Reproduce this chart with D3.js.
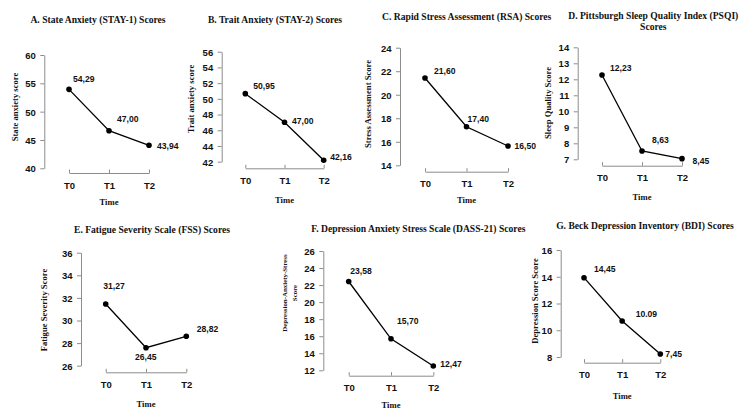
<!DOCTYPE html>
<html>
<head>
<meta charset="utf-8">
<script src="https://cdn.jsdelivr.net/npm/d3@7"></script>
<style>
	body { margin: 0; background: #fff; }
	.title { font-family: 'Liberation Serif', serif; font-size: 9.6px; font-weight: bold; fill: #111; }
	.ylab, .xlab { font-family: 'Liberation Serif', serif; font-size: 8.6px; font-weight: bold; fill: #111; }
	.axis text { font-family: 'Liberation Sans', Arial, sans-serif; font-size: 9.5px; font-weight: bold; fill: #111; }
	.axis path, .axis line { stroke: #8c8c8c; stroke-width: 1; }
	.val { font-family: 'Liberation Sans', Arial, sans-serif; font-size: 8.6px; font-weight: bold; fill: #111; }
</style>
</head>
<body>
<svg id="chart" width="750" height="419"></svg>
<script>
// time points shared by all panels
const timepoints = ['T0', 'T1', 'T2'];

const titles = [
	['A. State Anxiety (STAY-1) Scores'],
	['B. Trait Anxiety (STAY-2) Scores'],
	['C. Rapid Stress Assessment (RSA) Scores'],
	['D. Pittsburgh Sleep Quality Index (PSQI)', 'Scores'],
	['E. Fatigue Severity Scale (FSS) Scores'],
	['F. Depression Anxiety Stress Scale (DASS-21) Scores'],
	['G. Beck Depression Inventory (BDI) Scores'],
];

const yLabels = [
	['State anxiety score'],
	['Trait anxiety score'],
	['Stress Assessment Score'],
	['Sleep Quality Score'],
	['Fatigue Severity Score'],
	['Depression-Anxiety-Stress', 'Score'],
	['Depression Score Score'],
];

// plotted means and the printed labels
const stateAnxiety = [53.94, 46.64, 44.06];
const traitAnxiety = [50.66, 47.02, 42.18];
const rapidStress = [21.42, 17.28, 15.64];
const sleepQuality = [12.27, 7.52, 7.04];
const fatigue = [31.46, 27.59, 28.6];
const dass21 = [22.42, 15.7, 12.5];
const beck = [13.93, 10.69, 8.22];

const stateAnxietyLabels = ['54,29', '47,00', '43,94'];
const traitAnxietyLabels = ['50,95', '47,00', '42,16'];
const rapidStressLabels = ['21,60', '17,40', '16,50'];
const sleepQualityLabels = ['12,23', '8,63', '8,45'];
const fatigueLabels = ['31,27', '26,45', '28,82'];
const dass21Labels = ['23,58', '15,70', '12,47'];
const beckLabels = ['14,45', '10.09', '7,45'];

const yTicks = [
	[40, 45, 50, 55, 60],
	[42, 44, 46, 48, 50, 52, 54, 56],
	[14, 16, 18, 20, 22, 24],
	[7, 8, 9, 10, 11, 12, 13, 14],
	[26, 28, 30, 32, 34, 36],
	[12, 14, 16, 18, 20, 22, 24, 26],
	[8, 10, 12, 14, 16],
];

const series = [stateAnxiety, traitAnxiety, rapidStress, sleepQuality, fatigue, dass21, beck];
const seriesLabels = [stateAnxietyLabels, traitAnxietyLabels, rapidStressLabels, sleepQualityLabels, fatigueLabels, dass21Labels, beckLabels];

// layout only: axis position, plot extent, text anchors, value label offsets
const layout = [
	{ ax: 44.3, x0: 69, x1: 149, yTop: 55, yBot: 168.3, xAxisY: 173, tx: 98, ty: 23, lx: 18, ly: 107, timeY: 205,
		off: [[4, -10], [8, -12], [8, 1]] },
	{ ax: 221.7, x0: 245.3, x1: 323.7, yTop: 51.7, yBot: 161.7, xAxisY: 168.3, tx: 275, ty: 22.5, lx: 194, ly: 99, timeY: 203,
		off: [[8, -8], [7.5, -1.5], [6.5, -3]] },
	{ ax: 400, x0: 425, x1: 508, yTop: 47.7, yBot: 165.3, xAxisY: 171.7, tx: 466.7, ty: 20, lx: 371, ly: 104, timeY: 203,
		off: [[9, -7], [1, -8], [6.5, 0]] },
	{ ax: 577.7, x0: 602, x1: 682, yTop: 47.3, yBot: 159.3, xAxisY: 165.7, tx: 653.3, ty: 19, lx: 551, ly: 103, timeY: 200,
		off: [[8, -7], [10, -11], [10.5, 2]] },
	{ ax: 81, x0: 105.7, x1: 186.3, yTop: 252.7, yBot: 365.7, xAxisY: 372.3, tx: 152, ty: 233, lx: 47, ly: 310, timeY: 407,
		off: [[-2.5, -18.5], [-11, 9], [10.5, -7.5]] },
	{ ax: 323.3, x0: 348.7, x1: 433.3, yTop: 251, yBot: 370.3, xAxisY: 375.7, tx: 418.3, ty: 231.5, lx: 297, ly: 293, timeY: 408,
		ylabSize: 6.9, off: [[1.5, -10.5], [6, -17.5], [7, -2]] },
	{ ax: 560.7, x0: 584, x1: 660.3, yTop: 250, yBot: 357, xAxisY: 362.7, tx: 645, ty: 229, lx: 538, ly: 301, timeY: 399,
		off: [[10, -8.5], [13.5, -7], [5, 0]] },
];

const svg = d3.select('#chart');

series.forEach((values, i) => {
	const L = layout[i];
	const ticks = yTicks[i];
	const g = svg.append('g');

	const x = d3.scalePoint().domain(timepoints).range([L.x0, L.x1]);
	const y = d3.scaleLinear().domain(d3.extent(ticks)).range([L.yBot, L.yTop]);

	// title (may be two lines)
	g.append('text')
		.attr('class', 'title')
		.attr('text-anchor', 'middle')
		.selectAll('tspan')
		.data(titles[i])
		.join('tspan')
		.attr('x', L.tx)
		.attr('y', (d, k) => L.ty + k * 11)
		.text((d) => d);

	// y axis
	g.append('g')
		.attr('class', 'axis')
		.attr('transform', `translate(${L.ax},0)`)
		.call(d3.axisLeft(y).tickValues(ticks).tickSize(4).tickSizeOuter(0).tickPadding(4.5).tickFormat(d3.format('d')))
		.call((a) => a.selectAll('text').attr('dy', '0.36em'));

	// x axis, ticks pointing up
	g.append('g')
		.attr('class', 'axis')
		.attr('transform', `translate(0,${L.xAxisY})`)
		.call(d3.axisBottom(x).tickSize(-3.5).tickSizeOuter(0).tickPadding(0))
		.call((a) => a.selectAll('text').attr('y', 9).attr('dy', '0.71em'));

	// y label
	const ylines = yLabels[i];
	const ylab = g.append('text')
		.attr('class', 'ylab')
		.attr('text-anchor', 'middle')
		.attr('transform', `translate(${L.lx},${L.ly}) rotate(-90)`);
	if (L.ylabSize) ylab.style('font-size', L.ylabSize + 'px');
	ylab.selectAll('tspan')
		.data(ylines)
		.join('tspan')
		.attr('x', 0)
		.attr('y', (d, k) => (k - (ylines.length - 1)) * 10)
		.text((d) => d);

	g.append('text')
		.attr('class', 'xlab')
		.attr('text-anchor', 'middle')
		.attr('x', x('T1'))
		.attr('y', L.timeY)
		.text('Time');

	const pts = values.map((v, k) => ({ t: timepoints[k], v, label: seriesLabels[i][k], off: L.off[k] }));

	g.append('path')
		.datum(pts)
		.attr('fill', 'none')
		.attr('stroke', '#000')
		.attr('stroke-width', 1.3)
		.attr('d', d3.line().x((d) => x(d.t)).y((d) => y(d.v)));

	g.selectAll('circle')
		.data(pts)
		.join('circle')
		.attr('cx', (d) => x(d.t))
		.attr('cy', (d) => y(d.v))
		.attr('r', 2.8)
		.attr('fill', '#000');

	g.selectAll('.val')
		.data(pts)
		.join('text')
		.attr('class', 'val')
		.attr('x', (d) => x(d.t) + d.off[0])
		.attr('y', (d) => y(d.v) + d.off[1])
		.attr('dy', '0.36em')
		.text((d) => d.label);
});
</script>
</body>
</html>
